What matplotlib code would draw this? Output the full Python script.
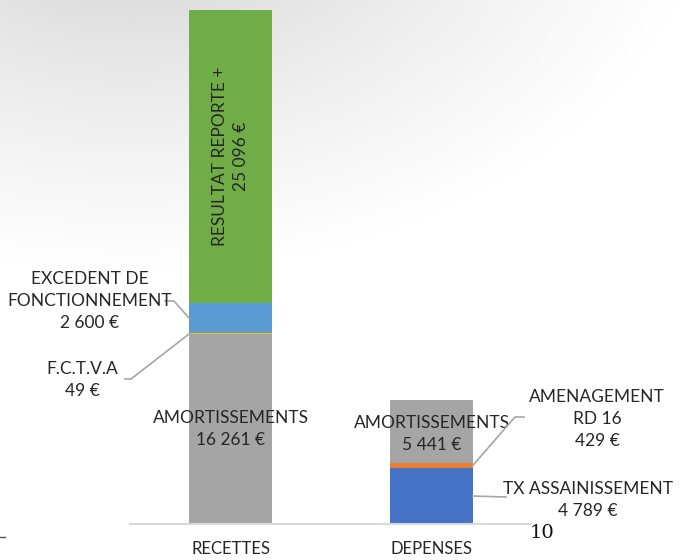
import numpy as np
import matplotlib
matplotlib.use('Agg')
import matplotlib.pyplot as plt
from matplotlib.lines import Line2D

plt.rcParams['font.family'] = ['Lato', 'DejaVu Sans']

# Data
categories = ['RECETTES', 'DEPENSES']
recettes_labels = ['AMORTISSEMENTS', 'F.C.T.V.A', 'EXCEDENT DE\nFONCTIONNEMENT', 'RESULTAT REPORTE +']
recettes_values = [16261, 49, 2600, 25096]
recettes_colors = ['#A5A5A5', '#FFC000', '#5B9BD5', '#70AD47']
depenses_labels = ['TX ASSAINISSEMENT', 'AMENAGEMENT\nRD 16', 'AMORTISSEMENTS']
depenses_values = [4789, 429, 5441]
depenses_colors = ['#4472C4', '#ED7D31', '#A5A5A5']
page_number = '10'


def euro(v):
    return f'{v:,}'.replace(',', ' ') + ' €'


W, H = 686, 560
fig = plt.figure(figsize=(W / 100, H / 100), dpi=100)

# background gradient (grey swoosh top-left)
bg = fig.add_axes([0, 0, 1, 1])
yy, xx = np.mgrid[0:H, 0:W]
d = np.sqrt(((xx - 130) / 1.5) ** 2 + (yy + 110) ** 2)
g = 0.855 + 0.145 * np.clip((d - 90) / 290, 0, 1) ** 0.8
bg.imshow(np.dstack([g, g, g]), extent=[0, W, H, 0], aspect='auto')
bg.set_axis_off()

# main axes in pixel layout
left, right, bottom, top = 130, 531, 524, 10
ax = fig.add_axes([left / W, 1 - bottom / H, (right - left) / W, (bottom - top) / H])
ax.patch.set_alpha(0)
width = 0.41
total_r = sum(recettes_values)
ax.set_xlim(-0.5, 1.495)
ax.set_ylim(0, total_r)
for s in ['left', 'right', 'top']:
    ax.spines[s].set_visible(False)
ax.spines['bottom'].set_color('#d9d9d9')
ax.spines['bottom'].set_linewidth(1.5)
ax.set_yticks([])
ax.set_xticks([0, 1])
ax.set_xticklabels(categories, fontsize=12, color='#262626')
ax.tick_params(axis='x', length=0, pad=12)

bottoms_r = np.concatenate([[0], np.cumsum(recettes_values)[:-1]])
bottoms_d = np.concatenate([[0], np.cumsum(depenses_values)[:-1]])
ax.bar([0] * 4, recettes_values, width, bottom=bottoms_r, color=recettes_colors)
ax.bar([1] * 3, depenses_values, width, bottom=bottoms_d, color=depenses_colors)

txt = dict(fontsize=12.5, color='#262626', ha='center', va='center', linespacing=1.45)

# inside labels
ax.text(0, bottoms_r[3] + recettes_values[3] * 0.5,
        f'{recettes_labels[3]}\n{euro(recettes_values[3])}',
        rotation=90, **txt)
ax.text(0, bottoms_r[0] + recettes_values[0] * 0.5,
        f'{recettes_labels[0]}\n{euro(recettes_values[0])}', **txt)
ax.text(1, bottoms_d[2] + depenses_values[2] * 0.46,
        f'{depenses_labels[2]}\n{euro(depenses_values[2])}', **txt)

# outside labels with leader lines (text positions in pixels)
fig.canvas.draw()
to_px = ax.transData


def leader(xd, yd, pts, text_xy, label):
    bx, by = to_px.transform((xd, yd))
    xs = [p[0] for p in pts] + [bx]
    ys = [H - p[1] for p in pts] + [by]
    fig.add_artist(Line2D(xs, ys, transform=None, color='#a6a6a6', lw=1.2))
    fig.text(text_xy[0] / W, 1 - text_xy[1] / H, label, **txt)


leader(-width / 2, bottoms_r[2] + recettes_values[2] * 0.5,
       [(165, 301), (174, 301)], (90, 301),
       f'{recettes_labels[2]}\n{euro(recettes_values[2])}')
leader(-width / 2, bottoms_r[1] + recettes_values[1] * 0.5,
       [(125, 379), (131, 379)], (82, 380),
       f'{recettes_labels[1]}\n{euro(recettes_values[1])}')
leader(1 + width / 2, bottoms_d[1] + depenses_values[1] * 0.5,
       [(524, 417), (515, 417)], (597, 419),
       f'{depenses_labels[1]}\n{euro(depenses_values[1])}')
leader(1 + width / 2, bottoms_d[0] + depenses_values[0] * 0.5,
       [(506, 497)], (588, 500),
       f'{depenses_labels[0]}\n{euro(depenses_values[0])}')

# page number and small mark
fig.text(542 / W, 1 - 533 / H, page_number, family='DejaVu Serif', fontsize=14,
         color='#111111', ha='center', va='center')
fig.add_artist(Line2D([0, 5], [H - 537, H - 537], transform=None, color='#555555', lw=1))

fig.savefig('out.png', dpi=100)
